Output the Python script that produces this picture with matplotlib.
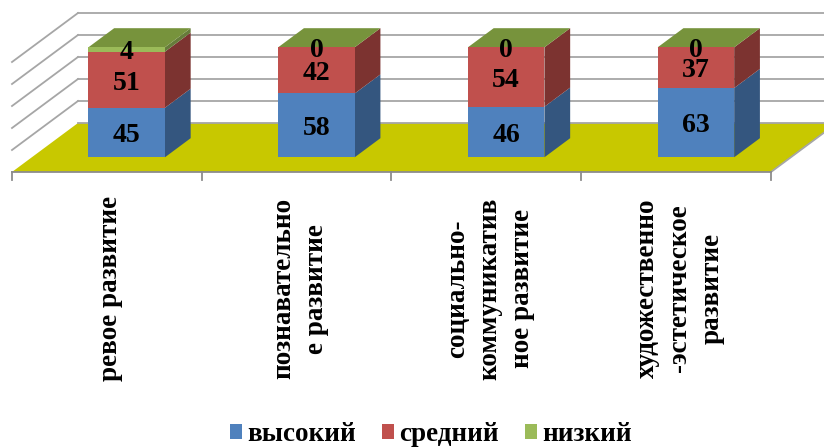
import matplotlib
matplotlib.use('Agg')
import numpy as np
import matplotlib.pyplot as plt
from matplotlib.patches import Polygon

categories = ['ревое развитие', 'познавательно\nе развитие',
              'социально-\nкоммуникатив\nное развитие',
              'художественно\n-эстетическое\nразвитие']
high = [45, 58, 46, 63]
medium = [51, 42, 54, 37]
low = [4, 0, 0, 0]
names = ['высокий', 'средний', 'низкий']
grid_values = [20, 40, 60, 80, 100]

front = ['#4f81bd', '#c0504d', '#9bbb59']
side = ['#34567f', '#7c3330', '#667c3a']
top = ['#3f618c', '#8a3a37', '#77933c']
floor_color = '#c8c800'
grid_color = '#a6a6a6'

plt.rcParams['font.family'] = ['Liberation Serif', 'DejaVu Serif']
plt.rcParams['font.weight'] = 'bold'

W, H = 824, 448
cat_px = 189.75
val_px = 1.1
# depth of the floor, in data units
depth_x = 66 / cat_px
depth_y = 49 / val_px
bar_depth = 0.3     # front of the bars, share of floor depth
bar_len = 0.39      # length of the bars, share of floor depth
bar_w = 76.5 / cat_px

fig = plt.figure(figsize=(W / 100, H / 100), dpi=100)
ax = fig.add_axes([0, 0, 1, 1])
x0 = -0.5 - 12 / cat_px
ax.set_xlim(x0, x0 + W / cat_px)
ax.set_ylim(172 / val_px - H / val_px, 172 / val_px)
ax.axis('off')


def pt(x, v, d):
    return (x + d * depth_x, v + d * depth_y)


n = len(categories)
left, right = -0.5, n - 0.5

# floor
ax.add_patch(Polygon([pt(left, 0, 0), pt(right, 0, 0), pt(right, 0, 1), pt(left, 0, 1)],
                     fc=floor_color, ec='none', zorder=1))
# back wall and side wall lines
for v in [0] + grid_values:
    a = pt(left, v, 1)
    b = pt(right, v, 1)
    ax.plot([a[0], b[0]], [a[1], b[1]], color=grid_color, lw=1.3, zorder=1.5)
for v in grid_values:
    a = pt(left, v, 0)
    b = pt(left, v, 1)
    ax.plot([a[0], b[0]], [a[1], b[1]], color=grid_color, lw=1.3, zorder=1.5)
a = pt(right, 0, 0)
b = pt(right, 0, 1)
ax.plot([a[0], b[0]], [a[1], b[1]], color=grid_color, lw=1.3, zorder=1.5)

# category axis
ax.plot([left, right], [0, 0], color='#8c8c8c', lw=1.3, zorder=2)
for i in range(n + 1):
    ax.plot([left + i, left + i], [0, -7], color='#8c8c8c', lw=1.3, zorder=2)

# bars
series = [high, medium, low]
bottoms = np.zeros(n)
xs = np.arange(n)
for k, vals in enumerate(series):
    vals = np.array(vals, dtype=float)
    bx = xs + bar_depth * depth_x
    by = bottoms + bar_depth * depth_y
    ax.bar(bx, vals, bar_w, bottom=by, color=front[k], label=names[k], zorder=4)
    for i in range(n):
        if vals[i] == 0:
            continue
        xr = bx[i] + bar_w / 2
        y1 = by[i]
        y2 = by[i] + vals[i]
        ddx = bar_len * depth_x
        ddy = bar_len * depth_y
        ax.add_patch(Polygon([(xr, y1), (xr + ddx, y1 + ddy), (xr + ddx, y2 + ddy), (xr, y2)],
                             fc=side[k], ec='none', zorder=3))
    bottoms = bottoms + vals

# top faces
for i in range(n):
    bx = xs[i] + bar_depth * depth_x
    y = bottoms[i] + bar_depth * depth_y
    xl = bx - bar_w / 2
    xr = bx + bar_w / 2
    ddx = bar_len * depth_x
    ddy = bar_len * depth_y
    ax.add_patch(Polygon([(xl, y), (xr, y), (xr + ddx, y + ddy), (xl + ddx, y + ddy)],
                         fc=top[2], ec='none', zorder=3))

# value labels
bottoms = np.zeros(n)
for k, vals in enumerate(series):
    for i in range(n):
        ax.text(xs[i] + bar_depth * depth_x,
                bottoms[i] + vals[i] / 2 + bar_depth * depth_y - 3,
                str(vals[i]), ha='center', va='center', fontsize=20, color='black', zorder=6)
        bottoms[i] += vals[i]

# category labels
for i, c in enumerate(categories):
    ax.text(i + 0.02, -106, c, rotation=90, ha='center', va='center', fontsize=19.5,
            linespacing=1.4, multialignment='center', color='black')

fig.legend(loc='lower center', bbox_to_anchor=(0.523, -0.052), ncol=3, frameon=False,
           fontsize=19.5, handlelength=0.45, handleheight=0.45, handletextpad=0.2, columnspacing=0.95)

fig.savefig('out.png', dpi=100)
